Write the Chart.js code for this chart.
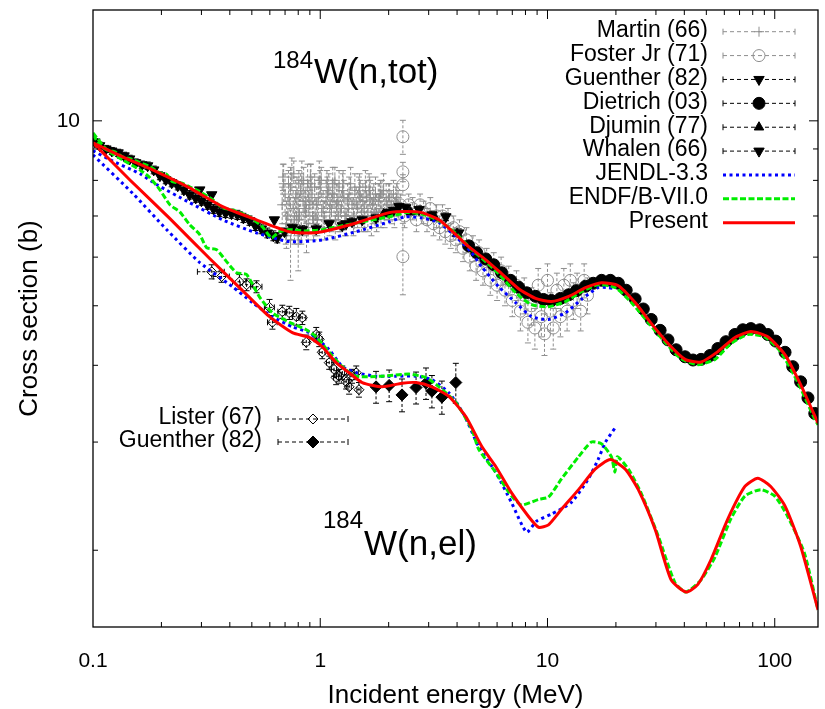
<!DOCTYPE html>
<html>
<head>
<meta charset="utf-8">
<title>184W neutron cross sections</title>
<script src="https://cdn.jsdelivr.net/npm/chart.js@4.4.1/dist/chart.umd.min.js"></script>
<style>
  html, body { margin: 0; padding: 0; background: #fff; }
  #plot { display: block; }
</style>
</head>
<body>
<canvas id="plot" width="825" height="709"></canvas>
<script>
// ---------------- evaluated curves (energy in MeV, cross section in b) ----------------
const presentTotE = [0.1, 0.135, 0.191, 0.266, 0.372, 0.524, 0.731, 0.87, 1.02, 1.44, 2.01, 2.40, 2.80, 3.33, 3.95, 4.50, 5.35, 6.28, 7.46, 8.86, 10.4, 12.4, 14.7, 17.3, 20.5, 24.3, 28.6, 33.9, 40.3, 47.4, 56.2, 66.8, 78.5, 93.2, 111, 130, 155];
const presentTotS = [9.21, 8.74, 8.26, 7.78, 7.25, 6.90, 6.60, 6.57, 6.60, 6.82, 7.09, 7.12, 7.09, 6.90, 6.53, 6.24, 5.94, 5.64, 5.33, 5.14, 5.08, 5.18, 5.35, 5.45, 5.39, 5.06, 4.68, 4.34, 4.09, 4.05, 4.21, 4.44, 4.54, 4.45, 4.16, 3.72, 3.22];

const presentElE = [0.1, 0.145, 0.218, 0.326, 0.488, 0.598, 0.754, 0.895, 1.02, 1.175, 1.34, 1.53, 1.87, 2.29, 2.64, 3.10, 3.68, 4.37, 5.14, 5.91, 6.95, 8.25, 9.14, 10.1, 11.5, 13.7, 16.2, 18.9, 22.0, 25.1, 29.8, 35.0, 40.7, 45.9, 52.4, 62.2, 73.9, 84.2, 96.0, 111, 130, 155];
const presentElS = [9.21, 8.02, 6.93, 5.97, 5.16, 4.80, 4.52, 4.44, 4.29, 4.04, 3.89, 3.75, 3.69, 3.74, 3.75, 3.69, 3.56, 3.30, 2.95, 2.74, 2.48, 2.27, 2.18, 2.20, 2.33, 2.51, 2.71, 2.81, 2.71, 2.51, 2.16, 1.79, 1.71, 1.76, 1.93, 2.25, 2.54, 2.62, 2.54, 2.36, 2.03, 1.60];

const endfTotE = [0.1, 0.108, 0.115, 0.125, 0.135, 0.148, 0.161, 0.178, 0.197, 0.211, 0.224, 0.245, 0.266, 0.295, 0.336, 0.372, 0.41, 0.441, 0.488, 0.557, 0.610, 0.661, 0.731, 0.85, 1.02, 1.44, 2.01, 2.38, 2.80, 3.33, 3.95, 4.64, 5.13, 6.10, 7.24, 8.51, 10.1, 12.0, 14.1, 16.7, 19.9, 23.4, 27.7, 32.9, 38.7, 45.9, 54.6, 64.1, 76.2, 90.4, 106, 126, 150, 155];
const endfTotS = [9.49, 9.10, 8.97, 8.90, 8.74, 8.66, 8.55, 8.42, 8.23, 8.18, 7.96, 7.92, 7.81, 7.67, 7.44, 7.22, 7.16, 7.09, 6.98, 6.72, 6.45, 6.60, 6.65, 6.62, 6.65, 6.82, 6.98, 7.09, 7.05, 6.88, 6.56, 6.17, 5.98, 5.64, 5.25, 5.02, 4.98, 5.08, 5.27, 5.41, 5.35, 5.06, 4.70, 4.36, 4.10, 4.01, 4.09, 4.34, 4.49, 4.45, 4.21, 3.76, 3.27, 3.20];

const endfElE = [0.1, 0.115, 0.135, 0.161, 0.178, 0.197, 0.218, 0.241, 0.266, 0.295, 0.316, 0.350, 0.387, 0.428, 0.474, 0.540, 0.616, 0.731, 0.868, 0.960, 1.095, 1.25, 1.44, 1.87, 2.46, 2.92, 3.33, 3.95, 4.64, 4.98, 5.91, 6.95, 7.69, 9.14, 10.1, 11.5, 13.7, 15.6, 17.3, 19.1, 19.8, 20.3, 22.7, 25.8, 30.7, 36.4, 40.7, 47.4, 54.6, 64.1, 73.9, 86.8, 100, 114, 135, 155];
const endfElS = [9.56, 8.97, 8.64, 8.32, 8.08, 7.72, 7.30, 7.11, 6.78, 6.53, 6.22, 6.17, 5.90, 5.66, 5.62, 5.17, 4.87, 4.70, 4.57, 4.45, 4.20, 3.98, 3.84, 3.84, 3.87, 3.82, 3.69, 3.48, 3.15, 2.92, 2.68, 2.45, 2.37, 2.42, 2.44, 2.61, 2.84, 3.00, 2.98, 2.84, 2.68, 2.84, 2.71, 2.48, 2.11, 1.77, 1.71, 1.79, 1.95, 2.25, 2.45, 2.51, 2.45, 2.27, 1.98, 1.60];

const jendlTotE = [0.1, 0.119, 0.161, 0.191, 0.266, 0.372, 0.524, 0.731, 1.02, 1.44, 2.01, 2.38, 2.80, 3.33, 3.95, 4.64, 5.13, 6.10, 7.24, 8.51, 10.1, 12.0, 14.1, 16.7, 18.5, 19.9];
const jendlTotS = [8.94, 8.64, 8.20, 7.87, 7.36, 6.90, 6.57, 6.36, 6.40, 6.60, 6.85, 6.98, 6.95, 6.83, 6.48, 6.10, 5.79, 5.37, 5.06, 4.80, 4.75, 4.87, 5.12, 5.35, 5.35, 5.33];

const jendlElE = [0.1, 0.150, 0.211, 0.295, 0.411, 0.503, 0.616, 0.754, 0.895, 1.095, 1.25, 1.44, 1.76, 2.15, 2.64, 3.10, 3.68, 4.28, 4.98, 5.91, 6.95, 8.09, 8.95, 10.4, 12.7, 15.1, 16.7, 18.0, 19.9];
const jendlElS = [8.80, 7.61, 6.65, 5.88, 5.37, 5.06, 4.80, 4.62, 4.52, 4.24, 3.98, 3.89, 3.84, 3.84, 3.84, 3.79, 3.61, 3.33, 2.95, 2.68, 2.39, 2.14, 2.23, 2.29, 2.39, 2.61, 2.81, 3.00, 3.17];

// ---------------- measurements: total cross section ----------------
const martinE = [0.68, 0.70, 0.72, 0.74, 0.74, 0.76, 0.78, 0.80, 0.80, 0.82, 0.84, 0.86, 0.88, 0.90, 0.92, 0.95, 0.98, 1.00, 1.03, 1.06, 1.09, 1.12, 1.15, 1.18, 1.21, 1.24, 1.27, 1.30, 1.34, 1.38, 1.42, 1.46, 1.50, 1.54, 1.58, 1.62, 1.66, 1.70, 1.75, 1.80, 1.85, 1.90, 1.95, 2.00, 2.05, 2.10, 2.15, 2.20,
  0.69, 0.71, 0.73, 0.75, 0.77, 0.79, 0.81, 0.83, 0.85, 0.87, 0.89, 0.91, 0.935, 0.965, 0.99, 1.015, 1.045, 1.075, 1.105, 1.135, 1.165, 1.195, 1.225, 1.255, 1.285, 1.32, 1.36, 1.40, 1.44, 1.48, 1.52, 1.56, 1.60, 1.64, 1.68, 1.72, 1.77, 1.82, 1.87, 1.92, 1.97, 2.02, 2.07, 2.12, 2.17,
  0.685, 0.705, 0.725, 0.745, 0.765, 0.785, 0.805, 0.825, 0.845, 0.865, 0.885, 0.905, 0.925, 0.945, 0.97, 1.01, 1.04, 1.07, 1.10, 1.13, 1.16, 1.20, 1.26, 1.33, 1.41, 1.49, 1.57, 1.65, 1.74, 1.84];
const martinS = [7.3, 7.6, 7.0, 7.8, 6.4, 7.2, 7.5, 6.9, 6.5, 7.7, 7.4, 7.1, 7.9, 7.3, 7.6, 7.0, 7.5, 7.8, 7.2, 7.4, 7.7, 7.1, 7.5, 7.3, 7.8, 7.2, 7.5, 7.0, 7.6, 7.3, 7.7, 7.2, 7.5, 7.4, 7.8, 7.1, 7.5, 7.3, 7.6, 7.4, 7.2, 7.7, 7.4, 7.5, 7.3, 7.6, 7.4, 7.3,
  7.9, 6.8, 7.4, 8.1, 6.9, 7.6, 7.0, 8.0, 7.2, 6.7, 7.5, 7.9, 6.9, 7.3, 8.0, 7.1, 6.9, 7.6, 7.3, 7.9, 6.9, 7.4, 7.1, 7.7, 7.0, 7.4, 7.9, 7.0, 7.3, 7.6, 7.1, 7.2, 7.5, 7.7, 7.0, 7.4, 7.1, 7.5, 7.6, 7.1, 7.3, 7.5, 7.2, 7.1, 7.5,
  8.1, 6.7, 7.9, 6.8, 8.2, 7.0, 7.9, 6.7, 8.0, 7.4, 6.8, 8.1, 7.0, 7.8, 6.9, 8.0, 7.0, 7.9, 6.9, 7.6, 8.0, 7.0, 7.9, 7.2, 7.0, 7.8, 7.0, 7.7, 7.1, 7.6];
const martinErr = [0.5, 0.6, 0.5, 0.6, 0.9, 0.5, 0.5, 0.6, 0.8, 0.5, 0.5, 0.6, 0.6, 0.5, 0.5, 0.5, 0.6, 0.5, 0.5, 0.6, 0.5, 0.5, 0.5, 0.6, 0.5, 0.5, 0.5, 0.5, 0.5, 0.5, 0.5, 0.5, 0.5, 0.5, 0.5, 0.5, 0.5, 0.5, 0.5, 0.5, 0.5, 0.5, 0.5, 0.4, 0.4, 0.4, 0.4, 0.4,
  0.6, 0.6, 0.5, 0.6, 0.6, 0.5, 0.6, 0.6, 0.5, 0.6, 0.5, 0.6, 0.5, 0.5, 0.6, 0.5, 0.5, 0.5, 0.5, 0.5, 0.5, 0.5, 0.5, 0.5, 0.5, 0.5, 0.5, 0.5, 0.5, 0.5, 0.5, 0.5, 0.5, 0.5, 0.5, 0.5, 0.5, 0.4, 0.4, 0.4, 0.4, 0.4, 0.4, 0.4, 0.4,
  0.4, 0.4, 0.4, 0.4, 0.4, 0.4, 0.4, 0.4, 0.4, 0.4, 0.4, 0.4, 0.4, 0.4, 0.4, 0.4, 0.4, 0.4, 0.4, 0.4, 0.4, 0.4, 0.4, 0.4, 0.4, 0.4, 0.4, 0.4, 0.4, 0.4];

const fosterE = [2.25, 2.31, 2.31, 2.31, 2.31, 2.35, 2.45, 2.55, 2.65, 2.75, 2.85, 2.95, 3.05, 3.15, 3.25, 3.35, 3.45, 3.55, 3.65, 3.75, 3.85, 3.95, 4.1, 4.25, 4.4, 4.55, 4.7, 4.85, 5.0, 5.2, 5.4, 5.6, 5.8, 6.0, 6.25, 6.5, 6.75, 7.0, 7.3, 7.6, 7.9, 8.2, 8.5, 8.8, 9.1, 9.4, 9.7, 10.0, 10.3, 10.6, 11.0, 11.4, 11.8, 12.2, 12.6, 13.0, 13.5, 14.0, 14.5, 15.0];
const fosterS = [7.3, 9.42, 8.26, 7.87, 6.01, 7.0, 7.3, 7.2, 6.9, 7.3, 7.1, 6.9, 7.2, 6.8, 7.0, 6.7, 7.0, 6.6, 6.9, 6.5, 6.7, 6.4, 6.6, 6.2, 6.4, 6.0, 6.2, 5.8, 6.1, 5.7, 5.9, 5.5, 5.8, 5.4, 5.7, 5.3, 5.5, 5.1, 5.4, 4.9, 5.2, 4.7, 5.0, 4.6, 5.4, 4.8, 4.5, 5.5, 4.9, 4.6, 5.3, 4.8, 5.4, 4.9, 5.5, 5.1, 5.3, 4.9, 5.5, 5.2];
const fosterErr = [0.3, 0.6, 0.3, 0.3, 0.8, 0.3, 0.3, 0.3, 0.3, 0.3, 0.3, 0.3, 0.3, 0.3, 0.3, 0.3, 0.3, 0.3, 0.3, 0.3, 0.3, 0.3, 0.3, 0.3, 0.3, 0.3, 0.3, 0.3, 0.3, 0.3, 0.3, 0.3, 0.3, 0.3, 0.3, 0.3, 0.3, 0.3, 0.3, 0.35, 0.35, 0.35, 0.35, 0.35, 0.35, 0.35, 0.35, 0.35, 0.35, 0.35, 0.35, 0.35, 0.35, 0.35, 0.35, 0.35, 0.35, 0.35, 0.35, 0.35];

const guentherTotE = [0.102, 0.107, 0.114, 0.121, 0.129, 0.137, 0.145, 0.154, 0.164, 0.174, 0.185, 0.197, 0.209, 0.222, 0.236, 0.251, 0.266, 0.283, 0.300, 0.319, 0.339, 0.360, 0.383, 0.407, 0.432, 0.459, 0.488, 0.518, 0.551, 0.585, 0.622, 0.647, 0.696, 0.754, 0.834, 0.960, 1.095, 1.25, 1.38, 1.53, 1.76, 2.01, 2.22, 2.38, 2.72, 3.10, 3.57, 4.07];
const guentherTotS = [9.24, 9.11, 9.00, 8.93, 8.87, 8.77, 8.67, 8.55, 8.48, 8.45, 8.32, 8.14, 8.02, 7.93, 7.84, 7.72, 7.58, 7.49, 7.41, 7.30, 7.19, 7.11, 7.08, 7.06, 7.03, 6.95, 6.88, 6.75, 6.67, 6.57, 6.50, 6.45, 6.60, 6.70, 6.65, 6.67, 6.80, 6.75, 6.85, 6.90, 6.95, 7.09, 7.25, 7.22, 7.17, 7.03, 6.98, 6.57];
const guentherTotErr = [0.12, 0.12, 0.12, 0.12, 0.12, 0.12, 0.12, 0.12, 0.12, 0.12, 0.12, 0.12, 0.12, 0.12, 0.12, 0.12, 0.12, 0.12, 0.12, 0.12, 0.12, 0.12, 0.12, 0.12, 0.12, 0.12, 0.12, 0.12, 0.12, 0.12, 0.12, 0.12, 0.1, 0.1, 0.1, 0.1, 0.1, 0.1, 0.1, 0.1, 0.1, 0.1, 0.1, 0.1, 0.1, 0.1, 0.1, 0.1];

const whalenE = [0.295, 0.333, 0.628, 1.30, 2.10];
const whalenS = [7.72, 7.58, 6.90, 6.80, 7.15];

const djuminE = [1.9, 2.5, 3.2, 4.0];
const djuminS = [7.05, 7.10, 6.95, 6.55];

const dietrichE = [4.50, 4.88, 5.35, 5.80, 6.28, 6.88, 7.46, 8.09, 8.86, 9.60, 10.4, 11.4, 12.4, 13.4, 14.7, 15.9, 17.3, 18.9, 20.5, 22.2, 24.3, 26.4, 28.6, 31.3, 33.9, 36.8, 40.3, 43.7, 47.4, 51.9, 56.2, 61.0, 66.8, 72.4, 78.5, 85.9, 93.2, 101, 111, 120, 130, 140, 150];
const dietrichS = [6.26, 6.10, 5.96, 5.83, 5.66, 5.50, 5.36, 5.25, 5.18, 5.12, 5.10, 5.14, 5.21, 5.29, 5.38, 5.44, 5.50, 5.50, 5.44, 5.30, 5.13, 4.94, 4.75, 4.56, 4.40, 4.24, 4.13, 4.08, 4.09, 4.15, 4.26, 4.37, 4.49, 4.57, 4.59, 4.57, 4.49, 4.38, 4.20, 3.98, 3.76, 3.54, 3.34];

// ---------------- measurements: elastic cross section ----------------
const listerE = [0.333, 0.368, 0.441, 0.474, 0.524, 0.598, 0.616, 0.681, 0.731, 0.785, 0.834, 0.868, 0.960, 0.990, 1.02, 1.095, 1.15, 1.175, 1.21, 1.25, 1.30, 1.34, 1.38, 1.44, 1.48];
const listerS = [5.68, 5.58, 5.47, 5.41, 5.37, 4.97, 4.70, 4.89, 4.87, 4.80, 4.78, 4.36, 4.49, 4.41, 4.20, 4.04, 3.94, 3.82, 3.84, 3.89, 3.76, 3.69, 3.84, 3.89, 3.65];
const listerErr = [0.15, 0.12, 0.15, 0.12, 0.12, 0.15, 0.12, 0.12, 0.12, 0.15, 0.12, 0.12, 0.12, 0.12, 0.1, 0.1, 0.1, 0.1, 0.1, 0.1, 0.1, 0.1, 0.1, 0.1, 0.1];
const listerDE = [0.045, 0.03, 0.03, 0.03, 0.03, 0.03, 0.03, 0.03, 0.03, 0.03, 0.03, 0.03, 0.03, 0.03, 0.03, 0.03, 0.03, 0.03, 0.03, 0.03, 0.03, 0.03, 0.03, 0.03, 0.03];

const guentherElE = [1.76, 2.01, 2.29, 2.64, 2.92, 3.10, 3.43, 3.95];
const guentherElS = [3.69, 3.71, 3.58, 3.68, 3.74, 3.63, 3.55, 3.75];
const guentherElErr = [0.22, 0.22, 0.22, 0.22, 0.22, 0.22, 0.22, 0.28];

// ---------------- axes ----------------
const xTickValues = [0.1, 1, 10, 100];
const xTickLabels = ['0.1', '1', '10', '100'];
const yTickValues = [10];
const yTickLabels = ['10'];

const FONT = '"Liberation Sans", Arial, Helvetica, sans-serif';
const GRAY = '#8e8e8e';

function points(E, S, err, dE) {
  return E.map((x, i) => ({
    x: x,
    y: S[i],
    e: err ? err[i] : 0,
    dx: dE ? dE[i] : 0
  }));
}

function curve(label, E, S, color, dash) {
  return {
    label: label,
    data: points(E, S),
    showLine: true,
    borderColor: color,
    borderWidth: 3,
    borderDash: dash,
    pointRadius: 0,
    tension: 0.2,
    fill: false
  };
}

function markers(label, E, S, err, opts, dE) {
  return Object.assign({
    label: label,
    data: points(E, S, err, dE),
    showLine: false,
    pointBorderWidth: 1
  }, opts);
}

const datasets = [
  curve('Present', presentTotE, presentTotS, '#ff0000', []),
  curve('Present', presentElE, presentElS, '#ff0000', []),
  curve('ENDF/B-VII.0', endfTotE, endfTotS, '#00ee00', [6, 2.5]),
  curve('ENDF/B-VII.0', endfElE, endfElS, '#00ee00', [6, 2.5]),
  curve('JENDL-3.3', jendlTotE, jendlTotS, '#0000ff', [3, 3.5]),
  curve('JENDL-3.3', jendlElE, jendlElS, '#0000ff', [3, 3.5]),
  markers('Guenther (82)', guentherElE, guentherElS, guentherElErr, {
    pointStyle: 'rectRot', pointRadius: 6, pointBackgroundColor: '#000', pointBorderColor: '#000', barColor: '#000'
  }),
  markers('Lister (67)', listerE, listerS, listerErr, {
    pointStyle: 'rectRot', pointRadius: 5, pointBackgroundColor: 'rgba(0,0,0,0)', pointBorderColor: '#000', barColor: '#000'
  }, listerDE),
  markers('Dietrich (03)', dietrichE, dietrichS, null, {
    pointStyle: 'circle', pointRadius: 6, pointBackgroundColor: '#000', pointBorderColor: '#000', barColor: '#000'
  }),
  markers('Djumin (77)', djuminE, djuminS, null, {
    pointStyle: 'triangle', pointRadius: 5.5, pointBackgroundColor: '#000', pointBorderColor: '#000', barColor: '#000'
  }),
  markers('Whalen (66)', whalenE, whalenS, null, {
    pointStyle: 'triangle', pointRotation: 180, pointRadius: 6, pointBackgroundColor: '#000', pointBorderColor: '#000', barColor: '#000'
  }),
  markers('Guenther (82)', guentherTotE, guentherTotS, guentherTotErr, {
    pointStyle: 'triangle', pointRotation: 180, pointRadius: 6, pointBackgroundColor: '#000', pointBorderColor: '#000', barColor: '#000'
  }),
  markers('Foster Jr (71)', fosterE, fosterS, fosterErr, {
    pointStyle: 'circle', pointRadius: 6, pointBackgroundColor: 'rgba(0,0,0,0)', pointBorderColor: GRAY, barColor: GRAY
  }),
  markers('Martin (66)', martinE, martinS, martinErr, {
    pointStyle: 'cross', pointRadius: 5, pointBackgroundColor: GRAY, pointBorderColor: GRAY, barColor: GRAY
  })
];

// key rows: [label, dataset index]
const upperKey = [
  ['Martin (66)', 13], ['Foster Jr (71)', 12], ['Guenther (82)', 11], ['Dietrich (03)', 8],
  ['Djumin (77)', 9], ['Whalen (66)', 10], ['JENDL-3.3', 4], ['ENDF/B-VII.0', 2], ['Present', 0]
];
const lowerKey = [['Lister (67)', 7], ['Guenther (82)', 6]];

// dashed error bars with short caps
function drawErrorBars(chart) {
  const { ctx, chartArea: a, scales: { x: xs, y: ys } } = chart;
  ctx.save();
  ctx.beginPath();
  ctx.rect(a.left, a.top, a.right - a.left, a.bottom - a.top);
  ctx.clip();
  ctx.lineWidth = 1;
  for (let k = chart.data.datasets.length - 1; k >= 0; k--) {
    const ds = chart.data.datasets[k];
    if (!ds.barColor) continue;
    ctx.strokeStyle = ds.barColor;
    ds.data.forEach(p => {
      const px = xs.getPixelForValue(p.x);
      const py = ys.getPixelForValue(p.y);
      if (p.e) {
        const t = ys.getPixelForValue(p.y + p.e);
        const b = ys.getPixelForValue(p.y - p.e);
        ctx.setLineDash([3, 2]);
        ctx.beginPath(); ctx.moveTo(px, t); ctx.lineTo(px, b); ctx.stroke();
        ctx.setLineDash([]);
        ctx.beginPath();
        ctx.moveTo(px - 3, t); ctx.lineTo(px + 3, t);
        ctx.moveTo(px - 3, b); ctx.lineTo(px + 3, b);
        ctx.stroke();
      }
      if (p.dx) {
        const l = xs.getPixelForValue(p.x - p.dx);
        const r = xs.getPixelForValue(p.x + p.dx);
        ctx.setLineDash([3, 2]);
        ctx.beginPath(); ctx.moveTo(l, py); ctx.lineTo(r, py); ctx.stroke();
        ctx.setLineDash([]);
        ctx.beginPath();
        ctx.moveTo(l, py - 3); ctx.lineTo(l, py + 3);
        ctx.moveTo(r, py - 3); ctx.lineTo(r, py + 3);
        ctx.stroke();
      }
    });
  }
  ctx.restore();
}

// border with inward ticks on all four sides
function drawFrame(chart) {
  const { ctx, chartArea: a, scales: { x: xs, y: ys } } = chart;
  ctx.save();
  ctx.strokeStyle = '#000';
  ctx.lineWidth = 1.3;
  ctx.strokeRect(a.left, a.top, a.right - a.left, a.bottom - a.top);
  ctx.lineWidth = 1;
  ctx.beginPath();
  [0.1, 1, 10, 100].forEach(dec => {
    for (let m = 1; m <= 9; m++) {
      const v = dec * m;
      const p = xs.getPixelForValue(v);
      if (p < a.left + 0.5 || p > a.right - 0.5) continue;
      const len = m === 1 ? 9 : 5;
      ctx.moveTo(p, a.bottom); ctx.lineTo(p, a.bottom - len);
      ctx.moveTo(p, a.top); ctx.lineTo(p, a.top + len);
    }
  });
  [1, 10].forEach(dec => {
    for (let m = 1; m <= 9; m++) {
      const v = dec * m;
      const p = ys.getPixelForValue(v);
      if (p < a.top + 0.5 || p > a.bottom - 0.5) continue;
      const len = m === 1 ? 9 : 5;
      ctx.moveTo(a.left, p); ctx.lineTo(a.left + len, p);
      ctx.moveTo(a.right, p); ctx.lineTo(a.right - len, p);
    }
  });
  ctx.stroke();
  ctx.restore();
}

function drawReaction(ctx, mass, text, x, yMass, yText) {
  ctx.font = '24px ' + FONT;
  ctx.fillText(mass, x, yMass);
  const w = ctx.measureText(mass).width;
  ctx.font = '35px ' + FONT;
  ctx.fillText(text, x + w + 1, yText);
}

function keySample(ctx, ds, x0, x1, y) {
  const xm = (x0 + x1) / 2;
  if (ds.barColor) {
    ctx.strokeStyle = ds.barColor;
    ctx.lineWidth = 1;
    ctx.setLineDash([4, 3]);
    ctx.beginPath(); ctx.moveTo(x0, y); ctx.lineTo(x1, y); ctx.stroke();
    ctx.setLineDash([]);
    ctx.beginPath();
    ctx.moveTo(x0, y - 3); ctx.lineTo(x0, y + 3);
    ctx.moveTo(x1, y - 3); ctx.lineTo(x1, y + 3);
    ctx.stroke();
    ctx.fillStyle = ds.pointBackgroundColor;
    ctx.strokeStyle = ds.pointBorderColor;
    ctx.lineWidth = ds.pointBorderWidth || 1;
    Chart.helpers.drawPoint(ctx, {
      pointStyle: ds.pointStyle,
      rotation: ds.pointRotation || 0,
      radius: ds.pointRadius,
      borderWidth: ds.pointBorderWidth || 1
    }, xm, y);
  } else {
    ctx.strokeStyle = ds.borderColor;
    ctx.lineWidth = ds.borderWidth;
    ctx.setLineDash(ds.borderDash || []);
    ctx.beginPath(); ctx.moveTo(x0, y); ctx.lineTo(x1, y); ctx.stroke();
    ctx.setLineDash([]);
  }
}

function drawKeys(chart) {
  const ctx = chart.ctx;
  const dsList = chart.data.datasets;
  ctx.save();
  ctx.font = '23px ' + FONT;
  ctx.textBaseline = 'middle';
  upperKey.forEach((row, i) => {
    const y = 30.7 + 23.88 * i;
    ctx.fillStyle = '#000';
    ctx.textAlign = 'right';
    ctx.fillText(row[0], 708, y);
    keySample(ctx, dsList[row[1]], 723, 795, y + 1);
  });
  lowerKey.forEach((row, i) => {
    const y = 418 + 23 * i;
    ctx.fillStyle = '#000';
    ctx.textAlign = 'right';
    ctx.fillText(row[0], 262, y);
    keySample(ctx, dsList[row[1]], 278, 348, y + 1);
  });
  ctx.restore();
}

const decorations = {
  id: 'decorations',
  beforeDatasetsDraw(chart) {
    drawErrorBars(chart);
  },
  afterDatasetsDraw(chart) {
    const ctx = chart.ctx;
    drawFrame(chart);
    ctx.save();
    ctx.fillStyle = '#000';
    ctx.textAlign = 'left';
    ctx.textBaseline = 'alphabetic';
    drawReaction(ctx, '184', 'W(n,tot)', 273, 68, 83);
    drawReaction(ctx, '184', 'W(n,el)', 323, 528, 555);
    ctx.restore();
    drawKeys(chart);
  }
};

// keep the plotting box fixed: no extra room for end tick labels
function noEdgePadding(s) {
  s.paddingTop = 0;
  s.paddingBottom = 0;
  s.paddingLeft = 0;
  s.paddingRight = 0;
}

new Chart(document.getElementById('plot'), {
  type: 'scatter',
  data: { datasets: datasets },
  options: {
    responsive: false,
    animation: false,
    events: [],
    layout: { padding: { top: 10, right: 3, left: 0, bottom: 0 } },
    plugins: { legend: { display: false }, tooltip: { enabled: false } },
    scales: {
      x: {
        type: 'logarithmic',
        min: 0.1,
        max: 155,
        grid: { display: false, drawTicks: false },
        border: { display: false },
        afterBuildTicks: s => { s.ticks = xTickValues.map(v => ({ value: v })); },
        afterFit: s => { s.height = 82; noEdgePadding(s); },
        ticks: {
          autoSkip: false, maxRotation: 0, padding: 22, color: '#000',
          font: { family: FONT, size: 21 },
          callback: (v, i) => xTickLabels[i]
        },
        title: {
          display: true, text: 'Incident energy (MeV)', color: '#000',
          font: { family: FONT, size: 26, lineHeight: 1 }, padding: { top: 0, bottom: 0 }
        }
      },
      y: {
        type: 'logarithmic',
        min: 1.5,
        max: 15.15,
        grid: { display: false, drawTicks: false },
        border: { display: false },
        afterBuildTicks: s => { s.ticks = yTickValues.map(v => ({ value: v })); },
        afterFit: s => { s.width = 93; noEdgePadding(s); },
        ticks: {
          padding: 13, color: '#000',
          font: { family: FONT, size: 21 },
          callback: (v, i) => yTickLabels[i]
        },
        title: {
          display: true, text: 'Cross section (b)', color: '#000',
          font: { family: FONT, size: 26, lineHeight: 1 }, padding: { top: 17, bottom: 0 }
        }
      }
    }
  },
  plugins: [decorations]
});
</script>
</body>
</html>
